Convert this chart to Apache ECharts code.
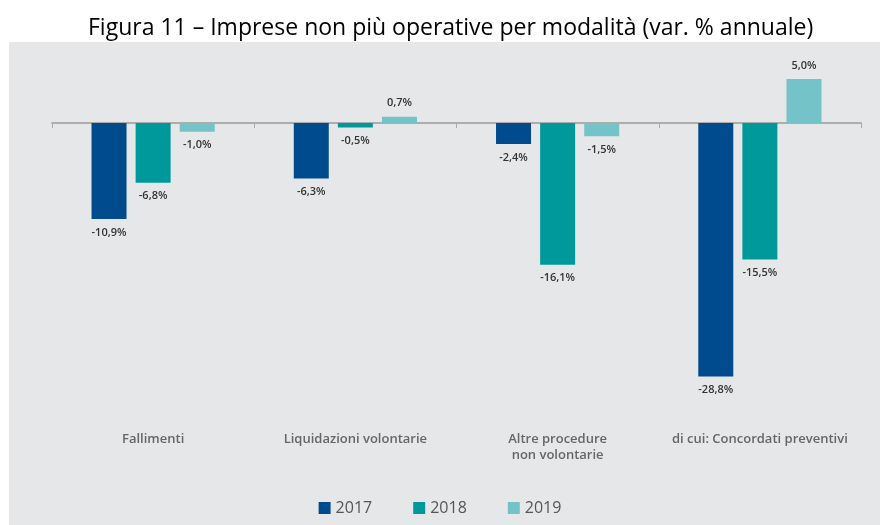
<!DOCTYPE html>
<html>
<head>
<meta charset="utf-8">
<script src="https://cdn.jsdelivr.net/npm/echarts@6/dist/echarts.min.js"></script>
<style>
  html, body { margin: 0; padding: 0; background: #ffffff; }
  #chart { width: 880px; height: 525px; }
</style>
</head>
<body>
<div id="chart"></div>
<script>
  // dati
  var categories = ['Fallimenti', 'Liquidazioni volontarie', 'Altre procedure\nnon volontarie', 'di cui: Concordati preventivi'];
  var years = ['2017', '2018', '2019'];
  var values2017 = [-10.9, -6.3, -2.4, -28.8];
  var values2018 = [-6.8, -0.5, -16.1, -15.5];
  var values2019 = [-1.0, 0.7, -1.5, 5.0];
  var colors = ['#004b8d', '#00999b', '#74c3c8'];

  function fmt(v) {
    return v.toFixed(1).replace('.', ',') + '%';
  }

  function makeSeries(name, data, color) {
    return {
      name: name,
      type: 'bar',
      xAxisIndex: 0,
      barWidth: 35,
      barGap: '26%',
      itemStyle: { color: color },
      data: data.map(function (v) {
        return {
          value: v,
          label: { position: v < 0 ? 'bottom' : 'top' }
        };
      }),
      label: {
        show: true,
        distance: 8,
        color: '#333333',
        fontSize: 11,
        fontWeight: 600,
        fontFamily: 'Open Sans',
        formatter: function (p) { return fmt(p.value); }
      }
    };
  }

  var myChart = echarts.init(document.getElementById('chart'));
  var option = {
    backgroundColor: '#ffffff',
    animation: false,
    graphic: [{
      type: 'rect',
      left: 9,
      top: 42,
      z: -10,
      shape: { width: 871, height: 483 },
      style: { fill: '#e6e7e9' }
    }],
    title: {
      text: 'Figura 11 – Imprese non più operative per modalità (var. % annuale)',
      left: 83,
      top: 12,
      textStyle: {
        fontFamily: 'Open Sans',
        fontSize: 23,
        fontWeight: 'normal',
        color: '#000000'
      }
    },
    legend: {
      data: years,
      bottom: 4,
      left: 'center',
      itemWidth: 12,
      itemHeight: 12,
      itemGap: 41,
      icon: 'rect',
      textStyle: {
        fontFamily: 'Open Sans',
        fontSize: 16,
        color: '#555555'
      }
    },
    grid: {
      left: 52,
      right: 19,
      top: 52.6,
      bottom: 138
    },
    xAxis: [{
      type: 'category',
      data: categories,
      axisLine: { onZero: true, lineStyle: { color: '#9a9a9a', width: 1.5 } },
      axisTick: { show: true, length: 5, lineStyle: { color: '#aaaaaa' } },
      axisLabel: { show: false }
    }, {
      type: 'category',
      data: categories,
      position: 'bottom',
      axisLine: { show: false },
      axisTick: { show: false },
      axisLabel: {
        interval: 0,
        margin: 44,
        color: '#666666',
        fontSize: 13,
        fontWeight: 600,
        fontFamily: 'Open Sans',
        lineHeight: 16
      }
    }],
    yAxis: {
      type: 'value',
      min: -30,
      max: 8,
      show: false,
      splitLine: { show: false }
    },
    series: [
      makeSeries(years[0], values2017, colors[0]),
      makeSeries(years[1], values2018, colors[1]),
      makeSeries(years[2], values2019, colors[2])
    ]
  };
  myChart.setOption(option);
</script>
</body>
</html>
